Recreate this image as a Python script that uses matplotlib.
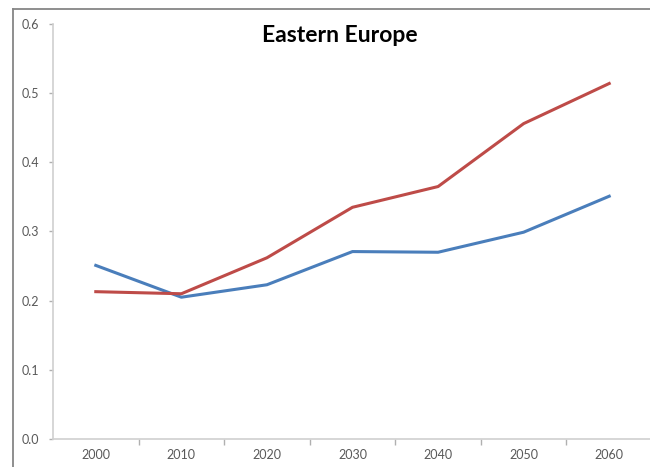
import matplotlib
matplotlib.use("Agg")
import matplotlib.pyplot as plt
from matplotlib.lines import Line2D
from matplotlib.ticker import FormatStrFormatter, FixedLocator

categories = ["2000", "2010", "2020", "2030", "2040", "2050", "2060"]
blue_series = [0.251, 0.205, 0.223, 0.271, 0.270, 0.299, 0.351]
red_series = [0.213, 0.210, 0.262, 0.335, 0.365, 0.456, 0.514]
y_ticks = [0.0, 0.1, 0.2, 0.3, 0.4, 0.5, 0.6]
title = "Eastern Europe"

plt.rcParams['font.family'] = ['Lato', 'DejaVu Sans']

W, H = 650, 467
fig = plt.figure(figsize=(W / 100, H / 100), dpi=100)

# outer chart border (left and top visible)
fig.add_artist(Line2D([13 / W, 13 / W], [0, 1 - 9 / H], transform=fig.transFigure,
                      color="#868686", lw=1.3))
fig.add_artist(Line2D([13 / W, 1.0], [1 - 9 / H, 1 - 9 / H], transform=fig.transFigure,
                      color="#868686", lw=1.3))

left, right, top, bottom = 53, 652, 24, 439
ax = fig.add_axes([left / W, 1 - bottom / H, (right - left) / W, (bottom - top) / H])

x = list(range(len(categories)))
ax.plot(x, blue_series, color="#4a7ebb", lw=2.2, solid_joinstyle="round")
ax.plot(x, red_series, color="#be4b48", lw=2.2, solid_joinstyle="round")

ax.set_xlim(-0.5, len(categories) - 0.5)
ax.set_ylim(0, 0.6)
ax.set_yticks(y_ticks)
ax.yaxis.set_major_formatter(FormatStrFormatter('%.1f'))

ax.set_xticks(x)
ax.set_xticklabels(categories)
ax.xaxis.set_minor_locator(FixedLocator([i + 0.5 for i in range(len(categories) - 1)]))

for s in ["top", "right"]:
    ax.spines[s].set_visible(False)
for s in ["left", "bottom"]:
    ax.spines[s].set_color("#d0d0d0")
    ax.spines[s].set_linewidth(1.2)

ax.tick_params(axis='y', which='major', length=3, color="#b0b0b0", width=1,
               labelsize=9, labelcolor="#595959", pad=7)
ax.tick_params(axis='x', which='major', length=0, labelsize=9, labelcolor="#595959", pad=7)
ax.tick_params(axis='x', which='minor', length=4, color="#b0b0b0", width=1)

fig.text(340 / W, 1 - 36 / H, title, ha='center', va='center', fontsize=16.5,
         fontweight='bold', color="#000000")

fig.savefig("out.png", dpi=100)
